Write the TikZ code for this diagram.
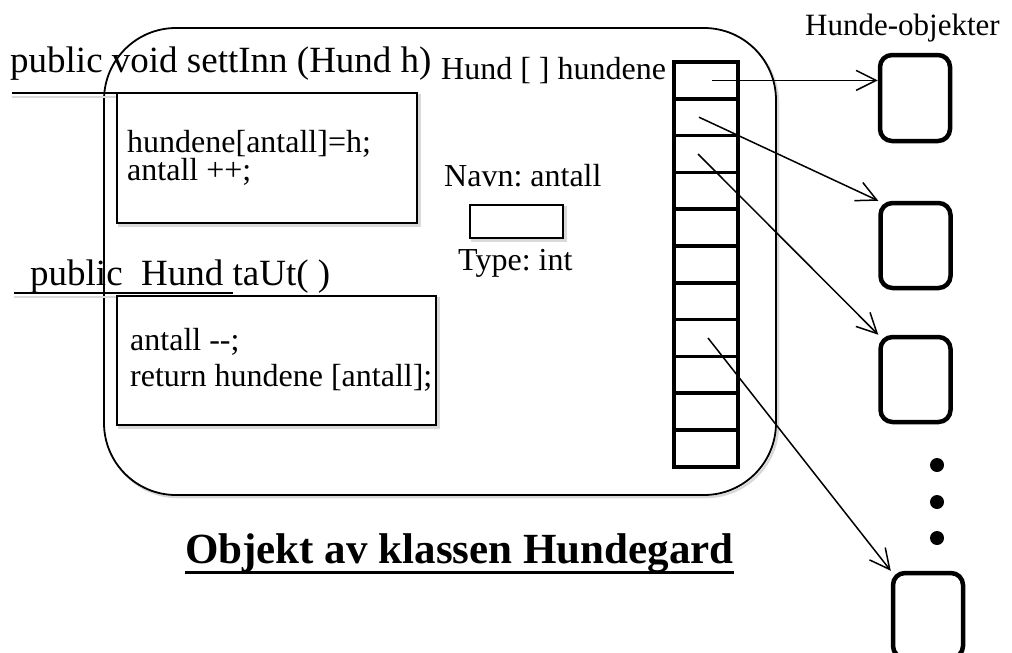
\documentclass[tikz,border=0pt]{standalone}
\usepackage{fontspec}
\setmainfont{LiberationSerif}[Extension=.ttf, UprightFont=*-Regular, BoldFont=*-Bold, ItalicFont=*-Italic, BoldItalicFont=*-BoldItalic]
\usetikzlibrary{arrows.meta,calc}
\frenchspacing
\begin{document}
\begin{tikzpicture}[x=1pt,y=-1pt,
  fbig/.style={font=\fontsize{37}{40}\selectfont},
  fmid/.style={font=\fontsize{32}{34}\selectfont},
  txt/.style={inner sep=0pt, anchor=base west},
  box/.style={draw, line width=1.8pt, fill=white, inner sep=0pt},
  shade/.style={draw=black!15, line width=2.5pt},
  cell/.style={draw, line width=3.5pt, minimum width=64pt, minimum height=36.8pt, inner sep=0pt},
  obj/.style={draw, line width=4.5pt, rounded corners=12pt, minimum width=70pt, minimum height=85pt, inner sep=0pt},
  ref/.style={line width=1.5pt, -{Straight Barb[length=20pt,width=20pt]}},
  dot/.style={circle, fill, inner sep=0pt, minimum size=14pt}]
\useasboundingbox (0,0) rectangle (1012,653);
% main object
\draw[shade, rounded corners=72pt] (106,31) rectangle (778,497);
\node[box, rounded corners=72pt, minimum width=672pt, minimum height=467pt] (main) at (440,261.5) {};
% method settInn
\node[txt, fbig] (h1) at (10,72) {public void settInn (Hund h)};
\draw[shade] (12,97) -- (230,97);
\draw[shade] (119,95) rectangle (419.5,225.5);
\node[box, minimum width=300pt, minimum height=130pt] (b1) at (267,158) {};
\draw[line width=2.8pt] (12,93) -- (230,93);
\node[inner sep=0pt, anchor=north west, align=left, font=\fontsize{32}{28}\selectfont] (b1t) at (127,130.1) {hundene[antall]=h;\\antall ++;};
% method taUt
\node[txt, fbig] (h2) at (30,285) {public\ \ Hund taUt( )};
\draw[shade] (14,297) -- (233,297);
\draw[shade] (119,298) rectangle (438.5,427.5);
\node[box, minimum width=319pt, minimum height=129pt] (b2) at (276.5,360.5) {};
\draw[line width=2.8pt] (14,293) -- (233,293);
\node[txt, fmid] (b2l1) at (130,350) {antall {-}{-};};
\node[txt, fmid] (b2l2) at (130,386) {return hundene [antall];};
% antall variable
\node[txt, fmid] (navn) at (444,186) {Navn: antall};
\draw[shade] (472,207) rectangle (565.5,240.5);
\node[box, minimum width=93pt, minimum height=33pt] (antall) at (516.5,221.5) {};
\node[txt, fmid] (type) at (458,270) {Type: int};
% array
\node[txt, fmid] (arrlabel) at (441,79) {Hund [ ] hundene};
\foreach \i in {0,...,10} {
  \node[cell] (c\i) at (706,{80.4+36.8*\i}) {};
}
% dog objects
\node[txt, font=\fontsize{31}{33}\selectfont] (hob) at (805,35) {Hunde-objekter};
\node[obj, minimum height=86pt] (o1) at (915,98) {};
\node[obj] (o2) at (915.5,245.5) {};
\node[obj] (o3) at (915.5,379.5) {};
\node[obj] (o4) at (928,615.5) {};
\node[dot] (d1) at (937,465) {};
\node[dot] (d2) at (937,502) {};
\node[dot] (d3) at (937,538) {};
% references
\coordinate (s1) at ([xshift=6pt]c0.center);
\coordinate (s2) at ([xshift=-7pt]c1.center);
\coordinate (s3) at ([xshift=-8pt]c2.center);
\coordinate (s4) at ([xshift=2pt]c7.center);
\draw[ref] (s1) -- (o1.west |- s1);
\draw[ref] (s2) -- (o2.north west);
\draw[ref] (s3) -- (o3.north west);
\draw[ref] (s4) -- (o4.north west);
% title
\node[txt, font=\fontsize{43}{46}\selectfont\bfseries] (title) at (185,563) {Objekt av klassen Hundegard};
\draw[line width=3pt] ([yshift=-9pt]title.base west) -- ([yshift=-9pt]title.base east);
\end{tikzpicture}
\end{document}
